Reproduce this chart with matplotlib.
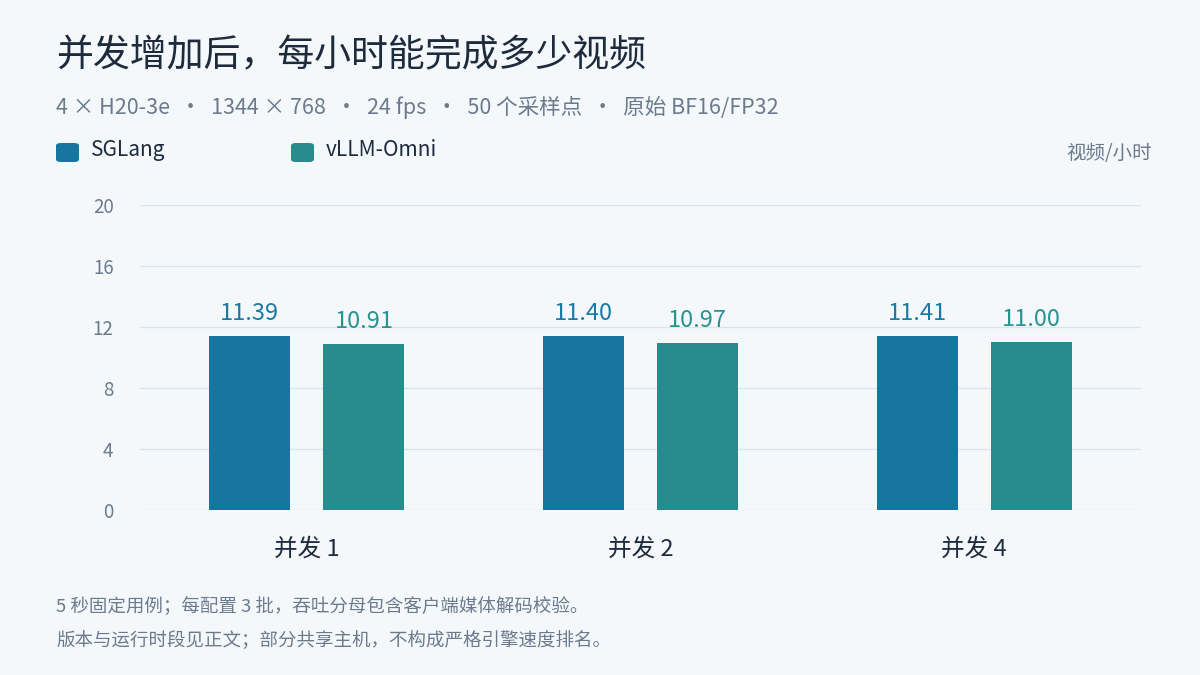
import numpy as np
import matplotlib
matplotlib.use("Agg")
import matplotlib.pyplot as plt
from matplotlib.patches import FancyBboxPatch

plt.rcParams['font.family'] = ['Noto Sans CJK SC', 'DejaVu Sans']

# data
categories = ["并发 1", "并发 2", "并发 4"]
series_names = ["SGLang", "vLLM-Omni"]
sglang = [11.39, 11.40, 11.41]
vllm = [10.91, 10.97, 11.00]
yticks = [0, 4, 8, 12, 16, 20]

title = "并发增加后，每小时能完成多少视频"
subtitle = "4 × H20-3e  ·  1344 × 768  ·  24 fps  ·  50 个采样点  ·  原始 BF16/FP32"
unit = "视频/小时"
notes = ["5 秒固定用例；每配置 3 批，吞吐分母包含客户端媒体解码校验。",
         "版本与运行时段见正文；部分共享主机，不构成严格引擎速度排名。"]

bg = "#f4f8fb"
dark = "#1e2b3d"
grey = "#6b7a8c"
grid = "#dce4ec"
colors = ["#17769f", "#268c8d"]
label_colors = ["#1b7aa3", "#2a9392"]

fig = plt.figure(figsize=(12, 6.75), dpi=100, facecolor=bg)
ax = fig.add_axes([140 / 1200, 165 / 675, 1001 / 1200, 305 / 675])
ax.set_facecolor(bg)

x = np.arange(len(categories))
w = 0.243
off = 0.171
for i, (vals, c, lc) in enumerate(zip([sglang, vllm], colors, label_colors)):
    pos = x + (off if i else -off)
    ax.bar(pos, vals, width=w, color=c, zorder=3)
    for px, v in zip(pos, vals):
        ax.annotate(f"{v:.2f}", (px, v), xytext=(0, 8), textcoords="offset points",
                    ha="center", va="bottom", fontsize=17, color=lc)

ax.set_xlim(-0.5, len(categories) - 0.5)
ax.set_ylim(0, 20)
ax.set_yticks(yticks)
ax.set_yticklabels([str(t) for t in yticks], fontsize=13.5, color=grey)
ax.set_xticks(x)
ax.set_xticklabels(categories, fontsize=17, color=dark)
ax.tick_params(axis="both", length=0)
ax.tick_params(axis="y", pad=19)
ax.tick_params(axis="x", pad=20)
ax.grid(axis="y", color=grid, linewidth=1, zorder=0)
for s in ax.spines.values():
    s.set_visible(False)

fig.text(56 / 1200, 1 - 56 / 675, title, fontsize=26.6, color=dark, va="center", ha="left")
fig.text(56 / 1200, 1 - 107 / 675, subtitle, fontsize=15.5, color=grey, va="center", ha="left")

# legend
for i, (name, c, sx) in enumerate(zip(series_names, colors, [56, 291])):
    sw = FancyBboxPatch((sx / 1200, 1 - 162 / 675), 23 / 1200, 19 / 675,
                        boxstyle="round,pad=0,rounding_size=0.004",
                        transform=fig.transFigure, facecolor=c, edgecolor="none")
    fig.patches.append(sw)
    fig.text((sx + 35) / 1200, 1 - 150 / 675, name, fontsize=15, color=dark,
             va="center", ha="left")

fig.text(1152 / 1200, 1 - 153 / 675, unit, fontsize=14, color=grey, va="center", ha="right")

for y, n in zip([606, 641], notes):
    fig.text(56 / 1200, 1 - y / 675, n, fontsize=13.3, color=grey, va="center", ha="left")

fig.savefig("out.png", dpi=100, facecolor=bg)
